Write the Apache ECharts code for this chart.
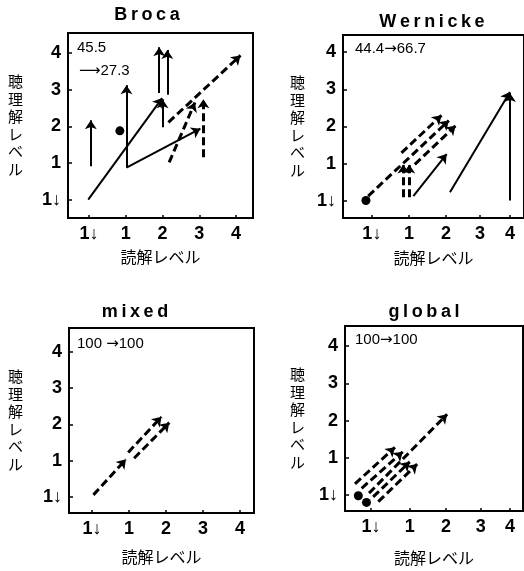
<!DOCTYPE html>
<html>
<head>
<meta charset="utf-8">
<script src="https://cdn.jsdelivr.net/npm/echarts@6/dist/echarts.min.js"></script>
<style>
html, body { margin: 0; padding: 0; background: #fff; }
#main { width: 524px; height: 571px; }
</style>
</head>
<body>
<div id="main"></div>
<script>
// tick labels, same on both axes
var levels = ['1↓', '1', '2', '3', '4'];

// where the ticks sit on each x axis (hand drawn scales, 3 and 4 are squeezed on the right panels)
var brocaXTicks = [0, 1, 2, 3, 4];
var wernickeXTicks = [0, 1, 2, 2.92, 3.73];
var mixedXTicks = [0, 1, 2, 3, 4];
var globalXTicks = [0, 1.05, 2.03, 2.97, 3.76];
var yTicks = [0, 1, 2, 3, 4];

// arrows as [x0, y0, x1, y1]
var brocaSolid = [
    [0.05, 0.92, 0.05, 2.17],
    [1.02, 0.88, 1.02, 3.12],
    [1.02, 0.88, 3.03, 1.94],
    [-0.02, 0.01, 1.99, 2.77],
    [1.91, 2.91, 1.91, 4.15],
    [2.13, 2.86, 2.13, 4.08],
    [2.0, 1.98, 2.0, 2.74]
];
var brocaDashed = [
    [2.16, 2.11, 4.12, 3.93],
    [2.18, 1.02, 2.88, 2.65],
    [3.11, 1.16, 3.11, 2.74]
];
var brocaDots = [[0.84, 1.88]];

var wernickeSolid = [
    [1.12, 0.13, 2.02, 1.26],
    [2.11, 0.23, 3.73, 2.93],
    [3.73, 0.01, 3.73, 2.9]
];
var wernickeDashed = [
    [0.80, 1.29, 1.88, 2.30],
    [-0.10, 0.13, 2.08, 2.16],
    [1.16, 0.98, 2.26, 2.02],
    [0.85, 0.10, 0.85, 0.98],
    [1.01, 0.10, 1.01, 0.98]
];
var wernickeDots = [[-0.16, 0.01]];

var mixedSolid = [];
var mixedDashed = [
    [0.04, 0.06, 0.92, 1.04],
    [0.98, 1.23, 1.88, 2.21],
    [1.14, 1.07, 2.09, 2.05]
];
var mixedDots = [];

var globalSolid = [];
var globalDashed = [
    [-0.43, 0.30, 0.65, 1.28],
    [-0.25, 0.18, 0.86, 1.16],
    [-0.05, 0.05, 2.06, 2.17],
    [0.06, -0.05, 1.05, 0.89],
    [0.20, -0.18, 1.25, 0.83]
];
var globalDots = [[-0.34, -0.02], [-0.12, -0.2]];

var panels = [
    {title: 'B\u2009r\u2009o\u2009c\u2009a', tx: 147, ty: 15,
     grid: {left: 68, top: 33, width: 185, height: 185},
     xMin: -0.57, xMax: 4.46, yMin: -0.49, yMax: 4.54, xTicks: brocaXTicks,
     solid: brocaSolid, dashed: brocaDashed, dots: brocaDots, xGap: 31, yGap: 45},
    {title: 'W\u2009e\u2009r\u2009n\u2009i\u2009c\u2009k\u2009e', tx: 432, ty: 22,
     grid: {left: 343, top: 35, width: 181, height: 183},
     xMin: -0.78, xMax: 4.11, yMin: -0.46, yMax: 4.46, xTicks: wernickeXTicks,
     solid: wernickeSolid, dashed: wernickeDashed, dots: wernickeDots, xGap: 32, yGap: 38},
    {title: 'm\u2009i\u2009x\u2009e\u2009d', tx: 135, ty: 312,
     grid: {left: 69, top: 328, width: 185, height: 185},
     xMin: -0.62, xMax: 4.38, yMin: -0.44, yMax: 4.66, xTicks: mixedXTicks,
     solid: mixedSolid, dashed: mixedDashed, dots: mixedDots, xGap: 36, yGap: 46},
    {title: 'g\u2009l\u2009o\u2009b\u2009a\u2009l', tx: 424, ty: 312,
     grid: {left: 345, top: 326, width: 178, height: 185},
     xMin: -0.70, xMax: 4.11, yMin: -0.43, yMax: 4.54, xTicks: globalXTicks,
     solid: globalSolid, dashed: globalDashed, dots: globalDots, xGap: 39, yGap: 40}
];

function tickLabel(ticks) {
    return function (v) {
        for (var i = 0; i < ticks.length; i++) {
            if (Math.abs(ticks[i] - v) < 1e-6) return levels[i];
        }
        return '';
    };
}

function arrows(list) {
    return list.map(function (a) {
        return {coords: [[a[0], a[1]], [a[2], a[3]]]};
    });
}

var grids = [], xAxes = [], yAxes = [], series = [], graphics = [];

panels.forEach(function (p, i) {
    grids.push(Object.assign({show: true, borderColor: '#000', borderWidth: 2, backgroundColor: 'transparent'}, p.grid));
    xAxes.push({
        type: 'value', gridIndex: i, min: p.xMin, max: p.xMax,
        splitLine: {show: false},
        axisLine: {show: true, onZero: false, lineStyle: {color: '#000', width: 2}},
        axisTick: {show: true, inside: true, length: 3, customValues: p.xTicks, lineStyle: {color: '#000', width: 1.5}},
        axisLabel: {customValues: p.xTicks, formatter: tickLabel(p.xTicks), margin: 7,
            color: '#000', fontSize: 18, fontWeight: 'bold', fontFamily: 'Liberation Sans'},
        name: '読解レベル', nameLocation: 'middle', nameGap: p.xGap,
        nameTextStyle: {color: '#000', fontSize: 16, fontFamily: 'Noto Sans CJK JP'}
    });
    yAxes.push({
        type: 'value', gridIndex: i, min: p.yMin, max: p.yMax,
        splitLine: {show: false},
        axisLine: {show: true, onZero: false, lineStyle: {color: '#000', width: 2}},
        axisTick: {show: true, inside: true, length: 4, customValues: yTicks, lineStyle: {color: '#000', width: 1.5}},
        axisLabel: {customValues: yTicks, formatter: tickLabel(yTicks), margin: 7,
            color: '#000', fontSize: 18, fontWeight: 'bold', fontFamily: 'Liberation Sans'},
        name: '聴\n理\n解\nレ\nベ\nル', nameLocation: 'middle', nameRotate: 0, nameGap: p.yGap,
        nameTextStyle: {color: '#000', fontSize: 15, lineHeight: 17.5, fontFamily: 'Noto Sans CJK JP'}
    });
    if (p.solid.length) {
        series.push({
            type: 'lines', coordinateSystem: 'cartesian2d', xAxisIndex: i, yAxisIndex: i,
            symbol: ['none', 'arrow'], symbolSize: 9, silent: true,
            lineStyle: {color: '#000', width: 2, type: 'solid', opacity: 1},
            data: arrows(p.solid)
        });
    }
    if (p.dashed.length) {
        series.push({
            type: 'lines', coordinateSystem: 'cartesian2d', xAxisIndex: i, yAxisIndex: i,
            symbol: ['none', 'arrow'], symbolSize: 9, silent: true,
            lineStyle: {color: '#000', width: 3, type: [8, 4], opacity: 1},
            data: arrows(p.dashed)
        });
    }
    if (p.dots.length) {
        series.push({
            type: 'scatter', xAxisIndex: i, yAxisIndex: i, symbolSize: 9, silent: true,
            itemStyle: {color: '#000', opacity: 1}, data: p.dots
        });
    }
    graphics.push({
        type: 'text', x: p.tx, y: p.ty,
        style: {text: p.title, fill: '#000', font: 'bold 18px "Liberation Sans"', textAlign: 'center', textVerticalAlign: 'middle'}
    });
});

// the little notes in the top-left corner of each box; {a|...} is the long thin arrow
var notes = [
    {text: '45.5', x: 77, y: 48},
    {text: '{a|⟶}27.3', x: 79, y: 71},
    {text: '44.4{a|→}66.7', x: 355, y: 49},
    {text: '100 {a|→}100', x: 77, y: 344},
    {text: '100{a|→}100', x: 355, y: 340}
];
notes.forEach(function (n) {
    graphics.push({
        type: 'text', x: n.x, y: n.y,
        style: {
            text: n.text, fill: '#000', fontSize: 15, fontFamily: 'Liberation Sans', verticalAlign: 'middle',
            rich: {a: {fontFamily: 'DejaVu Sans', fontSize: 15, fill: '#000'}}
        }
    });
});

var chart = echarts.init(document.getElementById('main'), null, {renderer: 'canvas'});
chart.setOption({
    animation: false,
    backgroundColor: '#fff',
    grid: grids,
    xAxis: xAxes,
    yAxis: yAxes,
    series: series,
    graphic: graphics
});
</script>
</body>
</html>
